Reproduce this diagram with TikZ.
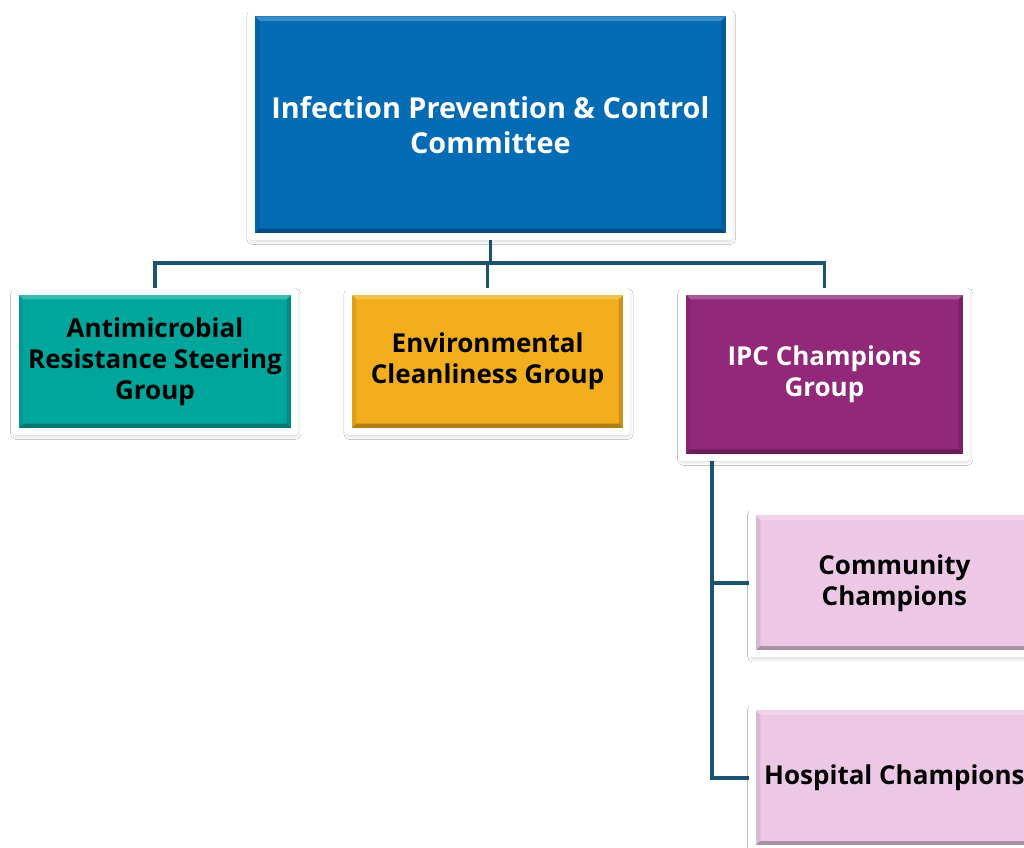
\documentclass[tikz,border=0pt]{standalone}
\usepackage{fontspec}
\setmainfont{Open Sans}
\usetikzlibrary{shadows.blur,backgrounds}

\definecolor{ipcblue}{RGB}{3,108,180}
\definecolor{amrteal}{RGB}{0,166,156}
\definecolor{envgold}{RGB}{242,174,28}
\definecolor{champpurple}{RGB}{146,40,122}
\definecolor{champpink}{RGB}{236,200,230}
\definecolor{linkblue}{RGB}{28,84,112}

% bevel sizes: half the frame, then the bevel rim itself
\newcommand{\bvout}{0.0875cm}
\newcommand{\bvrim}{0.11cm}

\tikzset{
    bevel/.style={path picture={
        \path (path picture bounding box.north west) ++(\bvout,-\bvout) coordinate (p1)
              (path picture bounding box.south east) ++(-\bvout,\bvout) coordinate (p3)
              (p1) ++(\bvrim,-\bvrim) coordinate (q1)
              (p3) ++(-\bvrim,\bvrim) coordinate (q3);
        \fill[white,opacity=.22] (p1) -- (p1 -| p3) -- (q1 -| q3) -- (q1) -- cycle;
        \fill[black,opacity=.28] (p1 |- p3) -- (p3) -- (q3) -- (q1 |- q3) -- cycle;
        \fill[black,opacity=.08] (p1) -- (q1) -- (q1 |- q3) -- (p1 |- p3) -- cycle;
        \fill[black,opacity=.16] (p1 -| p3) -- (p3) -- (q3) -- (q1 -| q3) -- cycle;
    }},
    unit/.style={draw=white, line width=0.175cm, line join=round, bevel, align=center,
        font=\bfseries\fontsize{18.5}{22}\selectfont, inner sep=0pt,
        blur shadow={shadow xshift=0.02cm, shadow yshift=-0.06cm, shadow blur radius=0.14cm,
            shadow opacity=30, shadow blur steps=16}},
    link/.style={draw=linkblue, line width=0.08cm},
}

\begin{document}
\begin{tikzpicture}
    \clip (0,0) rectangle (25.6,21.2);

    % committee and its three groups
    \node[unit, fill=ipcblue, text=white, minimum width=11.94cm, minimum height=5.59cm,
          font=\bfseries\fontsize{20.5}{25}\selectfont] (ipcc) at (12.26,18.08)
          {Infection Prevention \& Control\\Committee};
    \node[unit, fill=amrteal, minimum width=6.975cm, minimum height=3.5cm] (amr) at (3.875,12.16)
          {Antimicrobial\\Resistance Steering\\Group};
    \node[unit, fill=envgold, minimum width=6.95cm, minimum height=3.5cm] (env) at (12.19,12.16)
          {Environmental\\Cleanliness Group};
    \node[unit, fill=champpurple, text=white, minimum width=7.1cm, minimum height=4.15cm] (champs) at (20.61,11.84)
          {IPC Champions\\Group};

    % champions split
    \node[unit, fill=champpink, minimum width=7.1cm, minimum height=3.55cm] (comm) at (22.36,6.625)
          {Community\\Champions};
    \node[unit, fill=champpink, minimum width=7.1cm, minimum height=3.55cm] (hosp) at (22.36,1.75)
          {Hospital Champions};

    \coordinate (bus) at (0,14.625);
    \coordinate (spine) at (17.8,0);

    \begin{scope}[on background layer]
        \fill[white] (0,0) rectangle (25.6,21.2);
        \draw[link] (ipcc.south) -- (ipcc.south |- bus);
        \draw[link] (amr.north) |- (champs.north |- bus) -- (champs.north);
        \draw[link] (env.north) -- (env.north |- bus);
        \draw[link] (champs.south -| spine) |- (comm.west);
        \draw[link] (champs.south -| spine) |- (hosp.west);
    \end{scope}
\end{tikzpicture}
\end{document}
